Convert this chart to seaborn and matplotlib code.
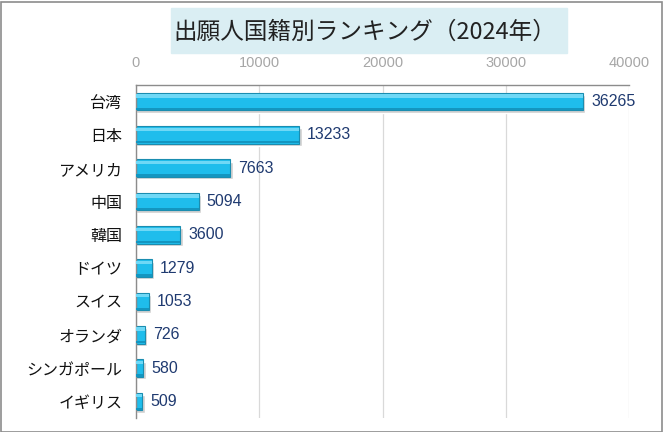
import matplotlib
matplotlib.use('Agg')
import pandas as pd
import seaborn as sns
import matplotlib.pyplot as plt
from matplotlib.patches import Rectangle

countries = ['台湾', '日本', 'アメリカ', '中国', '韓国', 'ドイツ', 'スイス', 'オランダ', 'シンガポール', 'イギリス']
applicants = [36265, 13233, 7663, 5094, 3600, 1279, 1053, 726, 580, 509]
x_ticks = [0, 10000, 20000, 30000, 40000]

df = pd.DataFrame({'国籍': countries, '人数': applicants})

sns.set_theme(style='white')
plt.rcParams['font.family'] = ['Liberation Sans', 'Noto Sans CJK JP', 'DejaVu Sans']

fig = plt.figure(figsize=(6.63, 4.32), dpi=100)
ax = fig.add_axes([136 / 663, 14 / 432, 493 / 663, 333 / 432])

# shadow, main bar, highlight
pos = range(len(countries))
ax.barh([p + 0.07 for p in pos], [v + 200 for v in applicants], height=0.53,
        color='#cfcfcf', zorder=1)
sns.barplot(data=df, x='人数', y='国籍', orient='h', width=0.53, color='#1fbdec',
            edgecolor='#1a8db0', linewidth=0.8, saturation=1, ax=ax, zorder=2)
ax.barh([p - 0.17 for p in pos], applicants, height=0.1, color='#6fd8f6',
        linewidth=0, zorder=3)
ax.barh([p + 0.22 for p in pos], applicants, height=0.07, color='#1496c0',
        linewidth=0, zorder=3)

for p, v in zip(pos, applicants):
    ax.text(v + 650, p, str(v), va='center', ha='left', fontsize=11.5,
            color='#1f3a70', zorder=4)

ax.set_xlim(0, 40000)
ax.set_ylim(len(countries) - 0.5, -0.5)
ax.xaxis.tick_top()
ax.set_xticks(x_ticks)
ax.set_xticklabels([str(t) for t in x_ticks], fontsize=10.5, color='#a6a6a6')
ax.tick_params(axis='x', length=0, pad=11)
ax.grid(axis='x', color='#d9d9d9', linewidth=0.9, zorder=0)
ax.set_axisbelow(True)

ax.set_yticks(list(pos))
ax.set_yticklabels(countries, fontsize=11.5, color='#111111',
                   family=['Noto Sans CJK JP', 'DejaVu Sans'])
ax.set_yticks([p + 0.5 for p in range(-1, len(countries))], minor=True)
ax.tick_params(axis='y', which='major', length=0, pad=10)
ax.tick_params(axis='y', which='minor', length=5, color='#8c8c8c', width=1)
ax.set_xlabel('')
ax.set_ylabel('')

for side in ['bottom', 'right']:
    ax.spines[side].set_visible(False)
for side in ['top', 'left']:
    ax.spines[side].set_color('#8c8c8c')
    ax.spines[side].set_linewidth(1)

# title box
fig.patches.append(Rectangle((171 / 663, 1 - 53 / 432), 396 / 663, 45 / 432,
                             transform=fig.transFigure, color='#daeef3', zorder=0))
fig.text(365 / 663, 1 - 32 / 432, '出願人国籍別ランキング（2024年）', ha='center', va='center',
         fontsize=17, color='#222222', family=['Noto Sans CJK JP', 'DejaVu Sans'])

# outer frame
fig.patches.append(Rectangle((0.5 / 663, 0.5 / 432), 661 / 663, 430 / 432,
                             transform=fig.transFigure, fill=False,
                             edgecolor='#8c8c8c', linewidth=1.2))

fig.savefig('out.png', dpi=100)
